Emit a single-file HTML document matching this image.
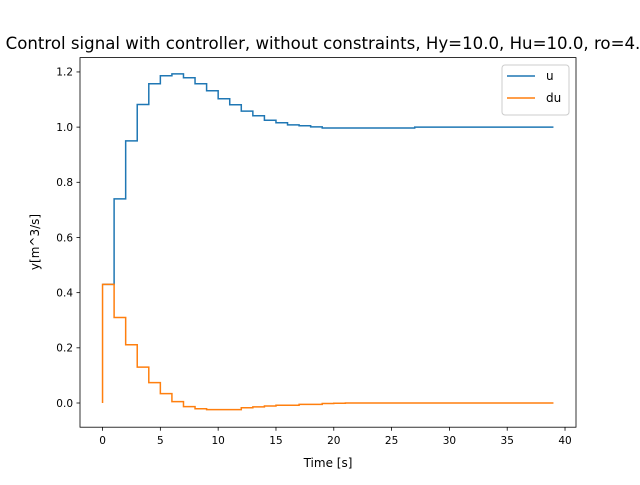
<!DOCTYPE html>
<html><head><meta charset="utf-8"><style>
body{margin:0;background:#fff;width:640px;height:480px;overflow:hidden}
svg{font-family:"DejaVu Sans","Liberation Sans",sans-serif}
</style></head><body>
<svg id="chart" width="640" height="480">
<rect width="640" height="480" fill="#fff"/>
<text x="323" y="49" font-size="16.6" text-anchor="middle">Control signal with controller, without constraints, Hy=10.0, Hu=10.0, ro=4.</text>
<g id="plot"></g>
<rect x="80" y="57.6" width="496" height="369.6" fill="none" stroke="#000" stroke-width="0.8"/>
<text x="328" y="467" font-size="12" text-anchor="middle">Time [s]</text>
<text transform="translate(39,242) rotate(-90)" font-size="12" text-anchor="middle">y[m^3/s]</text>
<g>
<rect x="502" y="65" width="67" height="50" rx="3" fill="#fff" fill-opacity="0.8" stroke="#ccc"/>
<line x1="507" y1="76" x2="535" y2="76" stroke="#1f77b4" stroke-width="1.5"/>
<text x="546" y="80" font-size="12">u</text>
<line x1="507" y1="98" x2="535" y2="98" stroke="#ff7f0e" stroke-width="1.5"/>
<text x="546" y="102" font-size="12">du</text>
</g>
</svg>
<script>
const uVals=[0.43,0.43,0.74,0.95,1.082,1.157,1.186,1.193,1.179,1.157,1.132,1.103,1.081,1.058,1.041,1.025,1.016,1.008,1.005,1.001,0.997,0.997,0.997,0.997,0.997,0.997,0.997,0.997,1.0,1.0,1.0,1.0,1.0,1.0,1.0,1.0,1.0,1.0,1.0,1.0];
const duVals=[0,0.43,0.31,0.211,0.13,0.074,0.034,0.005,-0.013,-0.021,-0.024,-0.024,-0.024,-0.017,-0.014,-0.011,-0.008,-0.008,-0.005,-0.005,-0.002,-0.001,0,0,0,0,0,0,0,0,0,0,0,0,0,0,0,0,0,0];
const xTicks=[0,5,10,15,20,25,30,35,40];
const yTicks=[0.0,0.2,0.4,0.6,0.8,1.0,1.2];
const X0=80,X1=576,Y0=427.2,Y1=57.6,xmin=-1.95,xmax=40.95,ymin=-0.0877,ymax=1.252;
const sx=v=>X0+(v-xmin)/(xmax-xmin)*(X1-X0);
const sy=v=>Y0-(v-ymin)/(ymax-ymin)*(Y0-Y1);
const NS="http://www.w3.org/2000/svg";
const g=document.getElementById('plot');
function mk(t,a){const e=document.createElementNS(NS,t);for(const k in a)e.setAttribute(k,a[k]);g.appendChild(e);return e;}
xTicks.forEach(t=>{
 const l=mk('line',{x1:sx(t),x2:sx(t),y1:Y0,y2:Y0+3.5,stroke:'#000','stroke-width':0.8});
 
 
 const s=mk('text',{x:sx(t),y:Y0+17,'font-size':10.5,'text-anchor':'middle'});s.textContent=t;
 
 
});
yTicks.forEach(t=>{
 const l=mk('line',{x1:X0-3.5,x2:X0,y1:sy(t),y2:sy(t),stroke:'#000','stroke-width':0.8});
 
 
 const s=mk('text',{x:X0-7,y:sy(t)+3.8,'font-size':10.5,'text-anchor':'end'});s.textContent=t.toFixed(1);
 
 
});
function steps(vals){let d='M'+sx(0)+','+sy(vals[0]);for(let i=1;i<vals.length;i++){d+=' L'+sx(i-1)+','+sy(vals[i])+' L'+sx(i)+','+sy(vals[i]);}return d;}
const pu=mk('path',{d:steps(uVals),fill:'none',stroke:'#1f77b4','stroke-width':1.5});


const pd=mk('path',{d:steps(duVals),fill:'none',stroke:'#ff7f0e','stroke-width':1.5});


</script>
</body></html>
